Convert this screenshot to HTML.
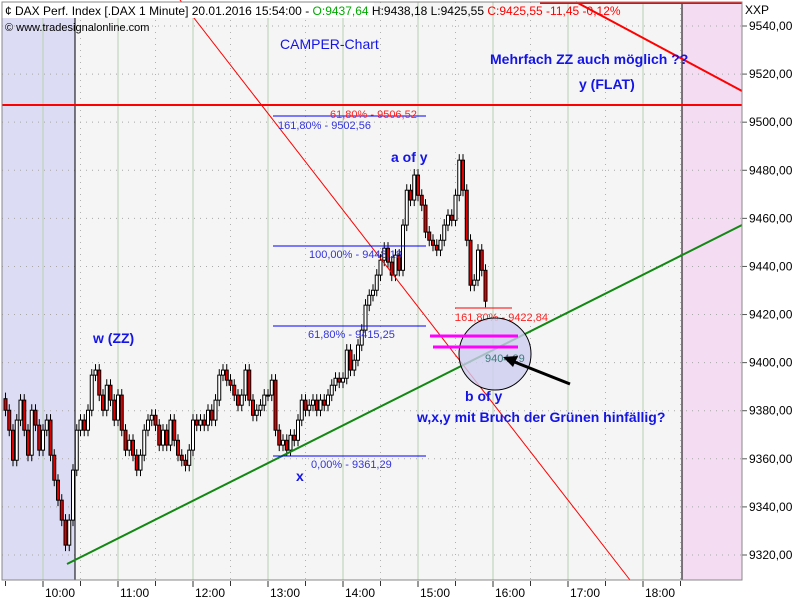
<!DOCTYPE html>
<html><head><meta charset="utf-8"><style>
body{margin:0;background:#fff;font-family:"Liberation Sans",sans-serif}
svg text{font-family:"Liberation Sans",sans-serif}
</style></head><body>
<svg id="chart" width="800" height="600" viewBox="0 0 800 600" xmlns="http://www.w3.org/2000/svg">
<rect x="0" y="0" width="800" height="600" fill="#fff"/>
<rect x="2" y="2" width="740" height="578" fill="#f5f5f5"/>
<rect x="2" y="2" width="73" height="578" fill="#dcdcf4"/>
<rect x="682" y="2" width="60" height="578" fill="#f4dcf2"/>
<g id="grid"></g>
<line x1="75" y1="2" x2="75" y2="580" stroke="#000"/>
<line x1="682" y1="2" x2="682" y2="580" stroke="#000"/>
<g id="candles"></g>
<g id="overlay">
<line x1="180" y1="0" x2="630" y2="580" stroke="#f00" stroke-width="1"/>
<line x1="2" y1="105" x2="742" y2="105" stroke="#f00" stroke-width="2"/>
<line x1="540" y1="3" x2="742" y2="3" stroke="#f00" stroke-width="2"/>
<line x1="576" y1="2" x2="742" y2="91" stroke="#f00" stroke-width="2"/>
<line x1="67" y1="564" x2="742" y2="225" stroke="#118811" stroke-width="2"/>
<line x1="273" y1="116" x2="426" y2="116" stroke="#00f"/>
<line x1="273" y1="246" x2="426" y2="246" stroke="#00f"/>
<line x1="273" y1="326" x2="426" y2="326" stroke="#00f"/>
<line x1="273" y1="456" x2="426" y2="456" stroke="#00f"/>
<line x1="455" y1="308" x2="512" y2="308" stroke="#f00"/>
<text x="330" y="118" font-size="11" fill="#f22">61,80% - 9506,52</text>
<text x="278" y="129" font-size="11" fill="#33d">161,80% - 9502,56</text>
<text x="309" y="258" font-size="11" fill="#33d">100,00% - 9448,18</text>
<text x="308" y="338" font-size="11" fill="#33d">61,80% - 9415,25</text>
<text x="311" y="468" font-size="11" fill="#33d">0,00% - 9361,29</text>
<text x="455" y="321" font-size="11" fill="#f22">161,80% - 9422,84</text>
<circle cx="495" cy="354" r="36" fill="rgba(205,205,240,0.8)" stroke="#000"/>
<line x1="430" y1="336" x2="518" y2="336" stroke="#f0f" stroke-width="3"/>
<line x1="433" y1="347" x2="518" y2="347" stroke="#f0f" stroke-width="3"/>
<text x="485" y="362" font-size="11" fill="#3a7a7a">9404,29</text>
<line x1="570" y1="384" x2="512" y2="361" stroke="#000" stroke-width="3"/>
<polygon points="503,357 518,356 513,367" fill="#000"/>
<g font-weight="bold" fill="#1414e6" font-size="14">
<text x="280" y="49" font-weight="normal">CAMPER-Chart</text>
<text x="490" y="64">Mehrfach ZZ auch möglich ??</text>
<text x="579" y="89">y (FLAT)</text>
<text x="391" y="162">a of y</text>
<text x="93" y="343">w (ZZ)</text>
<text x="296" y="481">x</text>
<text x="465" y="401">b of y</text>
<text x="417" y="422">w,x,y  mit Bruch der Grünen hinfällig?</text>
</g>
</g>
<rect x="2" y="2" width="372" height="16" fill="#fff"/>
<text x="5" y="15" font-size="12"><tspan fill="#000">¢ DAX Perf. Index [.DAX  1 Minute] 20.01.2016 15:54:00 - </tspan><tspan fill="#0a0">O:9437,64</tspan><tspan fill="#000"> H:9438,18 L:9425,55 </tspan><tspan fill="#f00">C:9425,55 -11,45 -0,12%</tspan></text>
<text x="5" y="31" font-size="11" fill="#000">© www.tradesignalonline.com</text>
<text x="745" y="14" font-size="12" fill="#000">XXP</text>
<g id="axes"></g>
<rect x="2" y="2" width="740" height="578" fill="none" stroke="#888"/>
</svg>
<script>
const closes=[9380.2,9371.9,9359.4,9376.1,9384.4,9371.9,9361.5,9380.2,9374.0,9363.6,9371.9,9376.1,9361.5,9351.1,9342.8,9334.5,9324.1,9334.5,9355.3,9371.9,9376.1,9371.9,9380.2,9394.8,9396.9,9386.5,9380.2,9390.6,9384.4,9376.1,9386.5,9371.9,9363.6,9367.7,9361.5,9355.3,9361.5,9371.9,9376.1,9378.1,9374.0,9365.7,9371.9,9365.7,9376.1,9367.7,9361.5,9359.4,9357.3,9363.6,9376.1,9374.0,9376.1,9374.0,9380.2,9376.1,9384.4,9394.8,9396.9,9392.7,9390.6,9386.5,9382.3,9386.5,9396.9,9384.4,9378.1,9380.2,9382.3,9386.5,9386.5,9392.7,9371.9,9365.7,9367.7,9363.6,9369.8,9367.7,9376.1,9384.4,9380.2,9382.3,9384.4,9380.2,9384.4,9382.3,9386.5,9390.6,9393.5,9391.9,9393.5,9405.2,9396.9,9401.0,9407.3,9413.5,9423.9,9428.0,9430.1,9436.4,9442.6,9447.6,9441.8,9436.4,9444.7,9438.4,9457.2,9471.7,9467.6,9478.0,9469.6,9465.5,9454.3,9450.9,9448.8,9446.8,9450.9,9457.2,9461.3,9459.2,9469.6,9484.2,9471.7,9450.9,9432.2,9434.3,9446.8,9438.4,9425.55];
const firstOpen=9385;
const startMinute=570; // 09:30
const barMinutes=3;
const yTicks=[9320,9340,9360,9380,9400,9420,9440,9460,9480,9500,9520,9540];
const yTickLabels=["9320,00","9340,00","9360,00","9380,00","9400,00","9420,00","9440,00","9460,00","9480,00","9500,00","9520,00","9540,00"];
const xHours=[10,11,12,13,14,15,16,17,18];
const xHourLabels=["10:00","11:00","12:00","13:00","14:00","15:00","16:00","17:00","18:00"];

const NS="http://www.w3.org/2000/svg";
function yScale(v){return 26+(9540-v)*2.4045;}
function xScale(min){return 43+(min-600)*1.25;}
function mk(tag,attrs,parent){const e=document.createElementNS(NS,tag);for(const k in attrs)e.setAttribute(k,attrs[k]);parent.appendChild(e);return e;}
const grid=document.getElementById('grid'),axes=document.getElementById('axes'),cg=document.getElementById('candles');
yTicks.forEach((v,i)=>{
  const y=yScale(v);
  const g=mk('line',{x1:2,y1:y,x2:742,y2:y,stroke:'#a8a8a8','stroke-dasharray':'1,5'},grid);
  
  
  const t=mk('line',{x1:742,y1:y,x2:747,y2:y,stroke:'#555'},axes);
  
  
  const l=mk('text',{x:749,y:y+4,'font-size':12,fill:'#000'},axes);
  l.textContent=yTickLabels[i];
  
  
});
xHours.forEach((h,i)=>{
  const x=xScale(h*60);
  const g=mk('line',{x1:x,y1:2,x2:x,y2:580,stroke:'#b8d0b0'},grid);
  
  
  const xh=xScale(h*60+30);
  if(xh<742){
    const d=mk('line',{x1:xh,y1:2,x2:xh,y2:580,stroke:'#b0b0b0','stroke-dasharray':'1,5'},grid);
    
    
    const ht=mk('line',{x1:xh,y1:581,x2:xh,y2:586,stroke:'#333'},axes);
    
    
  }
  const t=mk('line',{x1:x,y1:581,x2:x,y2:587,stroke:'#333'},axes);
  
  
  const l=mk('text',{x:x+2,y:597,'font-size':12,fill:'#000'},axes);
  l.textContent=xHourLabels[i];
  
  
});
{const x=xScale(570);const t=mk('line',{x1:x,y1:581,x2:x,y2:586,stroke:'#333'},axes);

}
closes.forEach((c,i)=>{
  const o=i===0?firstOpen:closes[i-1];
  const x=xScale(startMinute+i*barMinutes);
  const hi=Math.max(o,c)+2.5,lo=Math.min(o,c)-2.5;
  const w=mk('line',{x1:x,y1:yScale(hi),x2:x,y2:yScale(lo),stroke:'#000'},cg);
  
  
  const top=yScale(Math.max(o,c)),bot=yScale(Math.min(o,c));
  const b=mk('rect',{x:x-1.5,y:top,width:3,height:Math.max(1,bot-top),fill:c<o?'#e00000':'#ffffff',stroke:'#000','stroke-width':1},cg);
  
  
});
</script>
</body></html>
